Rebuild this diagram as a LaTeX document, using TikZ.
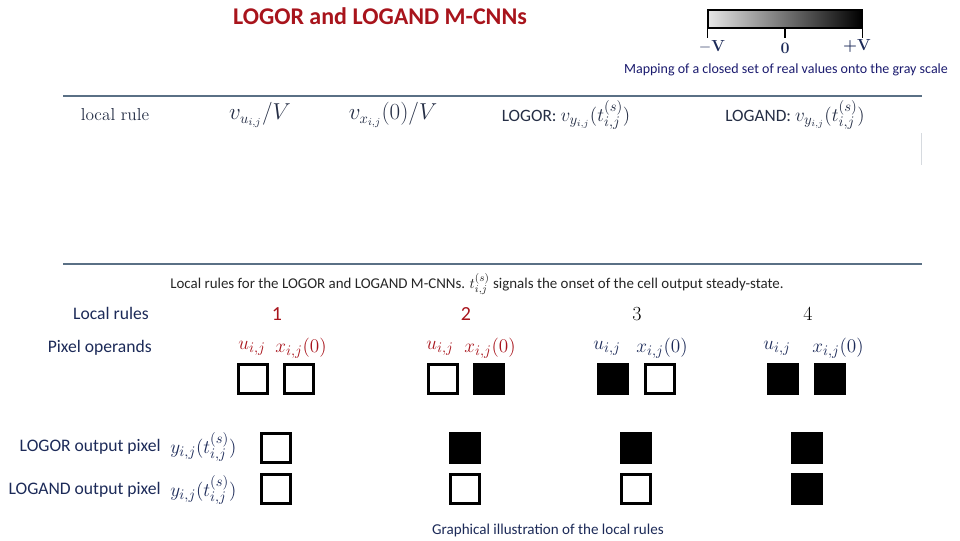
\documentclass[tikz,border=0pt]{standalone}
\usepackage{fontspec}
\setsansfont{Carlito}
\usepackage{xcolor}
\usepackage{tikz}
\usetikzlibrary{positioning}
\definecolor{wine}{HTML}{A8141C}
\definecolor{navy}{HTML}{1C2A58}
\definecolor{deepblue}{HTML}{1A1A6E}
\definecolor{hdr}{HTML}{252E45}
\definecolor{rulecol}{HTML}{5A7085}
\definecolor{faint}{HTML}{D6DADF}
\tikzset{
  px/.style={x=0.75pt, y=-0.75pt},
  pix/.style={draw=black, fill=white, line width=2.25pt, minimum size=21.75pt, inner sep=0pt},
  pixon/.style={pix, fill=black},
  hrule/.style={draw=rulecol, line width=1.5pt},
  lrule/.style={draw=rulecol, line width=0.9pt},
  t/.style={inner sep=0pt, font=\sffamily\fontsize{13.2}{15}\selectfont, text=navy},
  tr/.style={t, anchor=east},
  tl/.style={t, anchor=west},
  ttl/.style={t, font=\sffamily\bfseries\fontsize{18}{21}\selectfont, text=wine},
  tsm/.style={t, font=\sffamily\fontsize{10.5}{12}\selectfont, text=deepblue},
  thd/.style={t, font=\sffamily\fontsize{13}{15}\selectfont, text=hdr},
  tcap/.style={t, font=\sffamily\fontsize{11.2}{13}\selectfont, text=black!85},
  tnum/.style={t, font=\sffamily\fontsize{15}{17}\selectfont, text=wine},
  tnumk/.style={t, font=\rmfamily\fontsize{15}{17}\selectfont, text=black},
  opr/.style={t, font=\fontsize{15}{17}\selectfont, text=wine},
  opn/.style={t, font=\fontsize{15}{17}\selectfont, text=navy},
  tick/.style={draw=black, line width=0.9pt},
  tv/.style={t, font=\rmfamily\bfseries\fontsize{12}{14}\selectfont},
  scalebar/.style={draw=black, line width=0.9pt, left color=white!90!black, right color=black, minimum width=115.5pt, minimum height=13.5pt, inner sep=0pt},
}
\begin{document}
\begin{tikzpicture}[px]
  \useasboundingbox (0,0) rectangle (960,540);
  \node[ttl] (title) at (380,16) {LOGOR and LOGAND M-CNNs};

  % gray scale
  \node[scalebar] (scale) at (785,19) {};
  \draw[tick] (scale.south west) -- ++(0,9) coordinate (tm);
  \draw[tick] (scale.south) -- ++(0,9) coordinate (tz);
  \draw[tick] (scale.south east) -- ++(0,9) coordinate (tp);
  \node[tv] (vm) at (712,47) {$-$V};
  \node[tv] (vz) at (785,48) {0};
  \node[tv] (vp) at (857,46) {+V};
  \node[tsm] (map) at (786,70) {Mapping of a closed set of real values onto the gray scale};

  % table of local rules
  \draw[hrule] (63,96) -- (922,96);
  \node[thd, font=\rmfamily\fontsize{13}{15}\selectfont] (h0) at (115,115) {local rule};
  \node[thd, font=\fontsize{16}{18}\selectfont] (h1) at (260,115) {$v_{u_{i,j}}/V$};
  \node[thd, font=\fontsize{16}{18}\selectfont] (h2) at (393,115) {$v_{x_{i,j}}(0)/V$};
  \node[thd] (h3) at (566,115) {LOGOR: {\fontsize{15}{17}\selectfont$v_{y_{i,j}}(t_{i,j}^{(s)})$}};
  \node[thd] (h4) at (795,115) {LOGAND: {\fontsize{15}{17}\selectfont$v_{y_{i,j}}(t_{i,j}^{(s)})$}};
  \draw[faint, line width=0.75pt] (921,133) -- (921,165);
  \draw[lrule] (63,264) -- (922,264);
  \node[tcap] (cap) at (477,284) {Local rules for the LOGOR and LOGAND M-CNNs. $t_{i,j}^{(s)}$ signals the onset of the cell output steady-state.};

  % rows
  \node[tr] (rules) at (149,313) {Local rules};
  \node[tr] (oper) at (152,348) {Pixel operands};
  \node[tr] (orout) at (161,447) {LOGOR output pixel};
  \node[tr] (andout) at (161,490) {LOGAND output pixel};
  \node[opn, anchor=west] (yor) at (170,447) {$y_{i,j}(t_{i,j}^{(s)})$};
  \node[opn, anchor=west] (yand) at (170,490) {$y_{i,j}(t_{i,j}^{(s)})$};

  \node[tnum] (n1) at (277,314) {1};
  \node[tnum] (n2) at (466,314) {2};
  \node[tnumk] (n3) at (637,314) {3};
  \node[tnumk] (n4) at (808,314) {4};

  \node[opr] (lu1) at (252,348) {$u_{i,j}$}; \node[opr] (lx1) at (301,348) {$x_{i,j}(0)$};
  \node[opr] (lu2) at (440,348) {$u_{i,j}$}; \node[opr] (lx2) at (490,348) {$x_{i,j}(0)$};
  \node[opn] (lu3) at (607,348) {$u_{i,j}$}; \node[opn] (lx3) at (662,348) {$x_{i,j}(0)$};
  \node[opn] (lu4) at (777,348) {$u_{i,j}$}; \node[opn] (lx4) at (838,348) {$x_{i,j}(0)$};

  \node[pix] (u1) at (253,379) {};   \node[pix] (x1) at (299,379) {};
  \node[pix] (u2) at (443,379) {};   \node[pixon] (x2) at (489,379) {};
  \node[pixon] (u3) at (613,379) {}; \node[pix] (x3) at (660,379) {};
  \node[pixon] (u4) at (783,379) {}; \node[pixon] (x4) at (830,379) {};

  \node[pix] (or1) at (276,448) {};   \node[pix] (and1) at (276,489) {};
  \node[pixon] (or2) at (465,448) {}; \node[pix] (and2) at (465,489) {};
  \node[pixon] (or3) at (636,448) {}; \node[pix] (and3) at (636,489) {};
  \node[pixon] (or4) at (807,448) {}; \node[pixon] (and4) at (807,489) {};

  \node[t, font=\sffamily\fontsize{11.3}{13}\selectfont] (illus) at (548,530) {Graphical illustration of the local rules};
\end{tikzpicture}
\end{document}
